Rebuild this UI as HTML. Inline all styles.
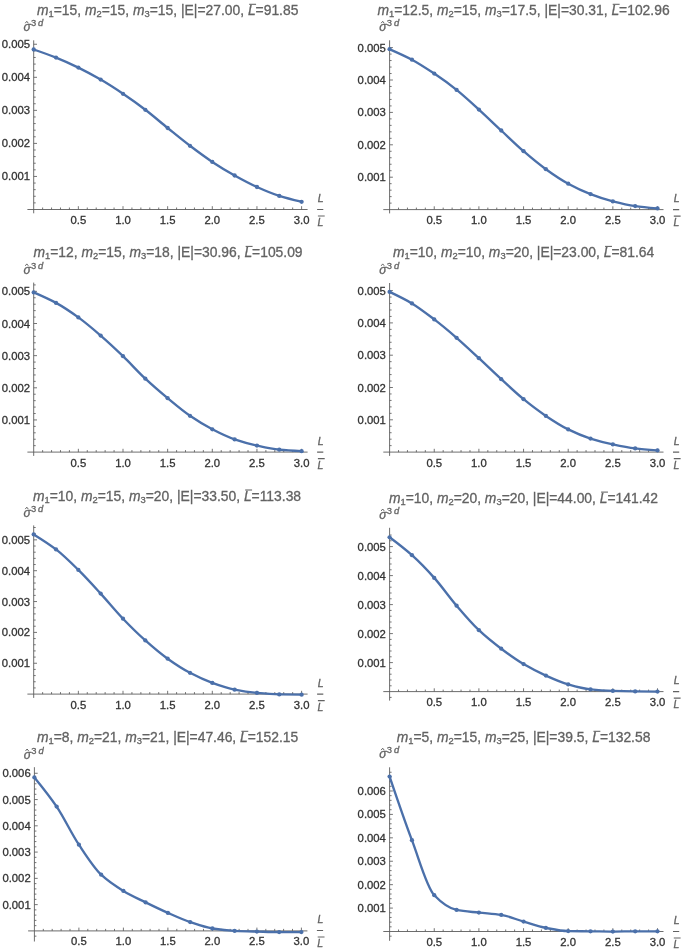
<!DOCTYPE html>
<html><head><meta charset="utf-8"><title>plots</title>
<style>
html,body{margin:0;padding:0;background:#fff;}
body{width:685px;height:951px;overflow:hidden;}
svg{display:block;font-family:"Liberation Sans",sans-serif;}
text{stroke-width:0.3px;paint-order:stroke;}
text[fill="#626262"]{stroke:#626262;}text[fill="#333333"]{stroke:#333333;}
</style></head><body>
<svg width="685" height="951" viewBox="0 0 685 951">
<defs><filter id="soft" x="0" y="0" width="685" height="951" filterUnits="userSpaceOnUse"><feGaussianBlur stdDeviation="0.35"/></filter><filter id="soft2" x="0" y="0" width="685" height="951" filterUnits="userSpaceOnUse"><feGaussianBlur stdDeviation="0.2"/></filter></defs>
<rect width="685" height="951" fill="#ffffff"/>
<g filter="url(#soft2)">
<path d="M27.40 209.50H307.60 M33.70 40.30V213.30" stroke="#5c5c5c" stroke-width="0.9" fill="none"/>
<path d="M42.63 209.50v-2.00M51.56 209.50v-2.00M60.49 209.50v-2.00M69.42 209.50v-2.00M78.35 209.50v-3.30M87.28 209.50v-2.00M96.21 209.50v-2.00M105.14 209.50v-2.00M114.07 209.50v-2.00M123.00 209.50v-3.30M131.93 209.50v-2.00M140.86 209.50v-2.00M149.79 209.50v-2.00M158.72 209.50v-2.00M167.65 209.50v-3.30M176.58 209.50v-2.00M185.51 209.50v-2.00M194.44 209.50v-2.00M203.37 209.50v-2.00M212.30 209.50v-3.30M221.23 209.50v-2.00M230.16 209.50v-2.00M239.09 209.50v-2.00M248.02 209.50v-2.00M256.95 209.50v-3.30M265.88 209.50v-2.00M274.81 209.50v-2.00M283.74 209.50v-2.00M292.67 209.50v-2.00M301.60 209.50v-3.30M33.70 202.89h2.00M33.70 196.28h2.00M33.70 189.67h2.00M33.70 183.06h2.00M33.70 176.45h3.30M33.70 169.84h2.00M33.70 163.23h2.00M33.70 156.62h2.00M33.70 150.01h2.00M33.70 143.40h3.30M33.70 136.79h2.00M33.70 130.18h2.00M33.70 123.57h2.00M33.70 116.96h2.00M33.70 110.35h3.30M33.70 103.74h2.00M33.70 97.13h2.00M33.70 90.52h2.00M33.70 83.91h2.00M33.70 77.30h3.30M33.70 70.69h2.00M33.70 64.08h2.00M33.70 57.47h2.00M33.70 50.86h2.00M33.70 44.25h3.30" stroke="#5c5c5c" stroke-width="0.85" fill="none"/>
<path d="M383.30 209.60H663.50 M389.60 40.30V213.40" stroke="#5c5c5c" stroke-width="0.9" fill="none"/>
<path d="M398.53 209.60v-2.00M407.46 209.60v-2.00M416.39 209.60v-2.00M425.32 209.60v-2.00M434.25 209.60v-3.30M443.18 209.60v-2.00M452.11 209.60v-2.00M461.04 209.60v-2.00M469.97 209.60v-2.00M478.90 209.60v-3.30M487.83 209.60v-2.00M496.76 209.60v-2.00M505.69 209.60v-2.00M514.62 209.60v-2.00M523.55 209.60v-3.30M532.48 209.60v-2.00M541.41 209.60v-2.00M550.34 209.60v-2.00M559.27 209.60v-2.00M568.20 209.60v-3.30M577.13 209.60v-2.00M586.06 209.60v-2.00M594.99 209.60v-2.00M603.92 209.60v-2.00M612.85 209.60v-3.30M621.78 209.60v-2.00M630.71 209.60v-2.00M639.64 209.60v-2.00M648.57 209.60v-2.00M657.50 209.60v-3.30M389.60 203.12h2.00M389.60 196.64h2.00M389.60 190.16h2.00M389.60 183.68h2.00M389.60 177.20h3.30M389.60 170.72h2.00M389.60 164.24h2.00M389.60 157.76h2.00M389.60 151.28h2.00M389.60 144.80h3.30M389.60 138.32h2.00M389.60 131.84h2.00M389.60 125.36h2.00M389.60 118.88h2.00M389.60 112.40h3.30M389.60 105.92h2.00M389.60 99.44h2.00M389.60 92.96h2.00M389.60 86.48h2.00M389.60 80.00h3.30M389.60 73.52h2.00M389.60 67.04h2.00M389.60 60.56h2.00M389.60 54.08h2.00M389.60 47.60h3.30" stroke="#5c5c5c" stroke-width="0.85" fill="none"/>
<path d="M27.40 452.10H307.60 M33.70 282.60V455.90" stroke="#5c5c5c" stroke-width="0.9" fill="none"/>
<path d="M42.63 452.10v-2.00M51.56 452.10v-2.00M60.49 452.10v-2.00M69.42 452.10v-2.00M78.35 452.10v-3.30M87.28 452.10v-2.00M96.21 452.10v-2.00M105.14 452.10v-2.00M114.07 452.10v-2.00M123.00 452.10v-3.30M131.93 452.10v-2.00M140.86 452.10v-2.00M149.79 452.10v-2.00M158.72 452.10v-2.00M167.65 452.10v-3.30M176.58 452.10v-2.00M185.51 452.10v-2.00M194.44 452.10v-2.00M203.37 452.10v-2.00M212.30 452.10v-3.30M221.23 452.10v-2.00M230.16 452.10v-2.00M239.09 452.10v-2.00M248.02 452.10v-2.00M256.95 452.10v-3.30M265.88 452.10v-2.00M274.81 452.10v-2.00M283.74 452.10v-2.00M292.67 452.10v-2.00M301.60 452.10v-3.30M33.70 445.67h2.00M33.70 439.24h2.00M33.70 432.81h2.00M33.70 426.38h2.00M33.70 419.95h3.30M33.70 413.52h2.00M33.70 407.09h2.00M33.70 400.66h2.00M33.70 394.23h2.00M33.70 387.80h3.30M33.70 381.37h2.00M33.70 374.94h2.00M33.70 368.51h2.00M33.70 362.08h2.00M33.70 355.65h3.30M33.70 349.22h2.00M33.70 342.79h2.00M33.70 336.36h2.00M33.70 329.93h2.00M33.70 323.50h3.30M33.70 317.07h2.00M33.70 310.64h2.00M33.70 304.21h2.00M33.70 297.78h2.00M33.70 291.35h3.30M33.70 284.92h2.00" stroke="#5c5c5c" stroke-width="0.85" fill="none"/>
<path d="M383.30 452.10H663.50 M389.60 283.00V455.90" stroke="#5c5c5c" stroke-width="0.9" fill="none"/>
<path d="M398.53 452.10v-2.00M407.46 452.10v-2.00M416.39 452.10v-2.00M425.32 452.10v-2.00M434.25 452.10v-3.30M443.18 452.10v-2.00M452.11 452.10v-2.00M461.04 452.10v-2.00M469.97 452.10v-2.00M478.90 452.10v-3.30M487.83 452.10v-2.00M496.76 452.10v-2.00M505.69 452.10v-2.00M514.62 452.10v-2.00M523.55 452.10v-3.30M532.48 452.10v-2.00M541.41 452.10v-2.00M550.34 452.10v-2.00M559.27 452.10v-2.00M568.20 452.10v-3.30M577.13 452.10v-2.00M586.06 452.10v-2.00M594.99 452.10v-2.00M603.92 452.10v-2.00M612.85 452.10v-3.30M621.78 452.10v-2.00M630.71 452.10v-2.00M639.64 452.10v-2.00M648.57 452.10v-2.00M657.50 452.10v-3.30M389.60 445.64h2.00M389.60 439.18h2.00M389.60 432.72h2.00M389.60 426.26h2.00M389.60 419.80h3.30M389.60 413.34h2.00M389.60 406.88h2.00M389.60 400.42h2.00M389.60 393.96h2.00M389.60 387.50h3.30M389.60 381.04h2.00M389.60 374.58h2.00M389.60 368.12h2.00M389.60 361.66h2.00M389.60 355.20h3.30M389.60 348.74h2.00M389.60 342.28h2.00M389.60 335.82h2.00M389.60 329.36h2.00M389.60 322.90h3.30M389.60 316.44h2.00M389.60 309.98h2.00M389.60 303.52h2.00M389.60 297.06h2.00M389.60 290.60h3.30" stroke="#5c5c5c" stroke-width="0.85" fill="none"/>
<path d="M27.40 694.10H307.60 M33.70 525.40V697.90" stroke="#5c5c5c" stroke-width="0.9" fill="none"/>
<path d="M42.63 694.10v-2.00M51.56 694.10v-2.00M60.49 694.10v-2.00M69.42 694.10v-2.00M78.35 694.10v-3.30M87.28 694.10v-2.00M96.21 694.10v-2.00M105.14 694.10v-2.00M114.07 694.10v-2.00M123.00 694.10v-3.30M131.93 694.10v-2.00M140.86 694.10v-2.00M149.79 694.10v-2.00M158.72 694.10v-2.00M167.65 694.10v-3.30M176.58 694.10v-2.00M185.51 694.10v-2.00M194.44 694.10v-2.00M203.37 694.10v-2.00M212.30 694.10v-3.30M221.23 694.10v-2.00M230.16 694.10v-2.00M239.09 694.10v-2.00M248.02 694.10v-2.00M256.95 694.10v-3.30M265.88 694.10v-2.00M274.81 694.10v-2.00M283.74 694.10v-2.00M292.67 694.10v-2.00M301.60 694.10v-3.30M33.70 687.93h2.00M33.70 681.76h2.00M33.70 675.59h2.00M33.70 669.42h2.00M33.70 663.25h3.30M33.70 657.08h2.00M33.70 650.91h2.00M33.70 644.74h2.00M33.70 638.57h2.00M33.70 632.40h3.30M33.70 626.23h2.00M33.70 620.06h2.00M33.70 613.89h2.00M33.70 607.72h2.00M33.70 601.55h3.30M33.70 595.38h2.00M33.70 589.21h2.00M33.70 583.04h2.00M33.70 576.87h2.00M33.70 570.70h3.30M33.70 564.53h2.00M33.70 558.36h2.00M33.70 552.19h2.00M33.70 546.02h2.00M33.70 539.85h3.30M33.70 533.68h2.00M33.70 527.51h2.00" stroke="#5c5c5c" stroke-width="0.85" fill="none"/>
<path d="M383.30 691.60H663.50 M389.60 527.80V700.60" stroke="#5c5c5c" stroke-width="0.9" fill="none"/>
<path d="M398.53 691.60v-2.00M407.46 691.60v-2.00M416.39 691.60v-2.00M425.32 691.60v-2.00M434.25 691.60v-3.30M443.18 691.60v-2.00M452.11 691.60v-2.00M461.04 691.60v-2.00M469.97 691.60v-2.00M478.90 691.60v-3.30M487.83 691.60v-2.00M496.76 691.60v-2.00M505.69 691.60v-2.00M514.62 691.60v-2.00M523.55 691.60v-3.30M532.48 691.60v-2.00M541.41 691.60v-2.00M550.34 691.60v-2.00M559.27 691.60v-2.00M568.20 691.60v-3.30M577.13 691.60v-2.00M586.06 691.60v-2.00M594.99 691.60v-2.00M603.92 691.60v-2.00M612.85 691.60v-3.30M621.78 691.60v-2.00M630.71 691.60v-2.00M639.64 691.60v-2.00M648.57 691.60v-2.00M657.50 691.60v-3.30M389.60 685.80h2.00M389.60 680.00h2.00M389.60 674.20h2.00M389.60 668.40h2.00M389.60 662.60h3.30M389.60 656.80h2.00M389.60 651.00h2.00M389.60 645.20h2.00M389.60 639.40h2.00M389.60 633.60h3.30M389.60 627.80h2.00M389.60 622.00h2.00M389.60 616.20h2.00M389.60 610.40h2.00M389.60 604.60h3.30M389.60 598.80h2.00M389.60 593.00h2.00M389.60 587.20h2.00M389.60 581.40h2.00M389.60 575.60h3.30M389.60 569.80h2.00M389.60 564.00h2.00M389.60 558.20h2.00M389.60 552.40h2.00M389.60 546.60h3.30M389.60 540.80h2.00M389.60 535.00h2.00M389.60 697.40h2.0" stroke="#5c5c5c" stroke-width="0.85" fill="none"/>
<path d="M28.10 930.90H307.40 M34.40 767.20V941.50" stroke="#5c5c5c" stroke-width="0.9" fill="none"/>
<path d="M43.30 930.90v-2.00M52.20 930.90v-2.00M61.10 930.90v-2.00M70.00 930.90v-2.00M78.90 930.90v-3.30M87.80 930.90v-2.00M96.70 930.90v-2.00M105.60 930.90v-2.00M114.50 930.90v-2.00M123.40 930.90v-3.30M132.30 930.90v-2.00M141.20 930.90v-2.00M150.10 930.90v-2.00M159.00 930.90v-2.00M167.90 930.90v-3.30M176.80 930.90v-2.00M185.70 930.90v-2.00M194.60 930.90v-2.00M203.50 930.90v-2.00M212.40 930.90v-3.30M221.30 930.90v-2.00M230.20 930.90v-2.00M239.10 930.90v-2.00M248.00 930.90v-2.00M256.90 930.90v-3.30M265.80 930.90v-2.00M274.70 930.90v-2.00M283.60 930.90v-2.00M292.50 930.90v-2.00M301.40 930.90v-3.30M34.40 925.65h2.00M34.40 920.39h2.00M34.40 915.14h2.00M34.40 909.88h2.00M34.40 904.63h3.30M34.40 899.38h2.00M34.40 894.12h2.00M34.40 888.87h2.00M34.40 883.61h2.00M34.40 878.36h3.30M34.40 873.11h2.00M34.40 867.85h2.00M34.40 862.60h2.00M34.40 857.34h2.00M34.40 852.09h3.30M34.40 846.84h2.00M34.40 841.58h2.00M34.40 836.33h2.00M34.40 831.07h2.00M34.40 825.82h3.30M34.40 820.57h2.00M34.40 815.31h2.00M34.40 810.06h2.00M34.40 804.80h2.00M34.40 799.55h3.30M34.40 794.30h2.00M34.40 789.04h2.00M34.40 783.79h2.00M34.40 778.53h2.00M34.40 773.28h3.30M34.40 936.15h2.0" stroke="#5c5c5c" stroke-width="0.85" fill="none"/>
<path d="M383.30 931.50H663.50 M389.60 767.30V940.80" stroke="#5c5c5c" stroke-width="0.9" fill="none"/>
<path d="M398.53 931.50v-2.00M407.46 931.50v-2.00M416.39 931.50v-2.00M425.32 931.50v-2.00M434.25 931.50v-3.30M443.18 931.50v-2.00M452.11 931.50v-2.00M461.04 931.50v-2.00M469.97 931.50v-2.00M478.90 931.50v-3.30M487.83 931.50v-2.00M496.76 931.50v-2.00M505.69 931.50v-2.00M514.62 931.50v-2.00M523.55 931.50v-3.30M532.48 931.50v-2.00M541.41 931.50v-2.00M550.34 931.50v-2.00M559.27 931.50v-2.00M568.20 931.50v-3.30M577.13 931.50v-2.00M586.06 931.50v-2.00M594.99 931.50v-2.00M603.92 931.50v-2.00M612.85 931.50v-3.30M621.78 931.50v-2.00M630.71 931.50v-2.00M639.64 931.50v-2.00M648.57 931.50v-2.00M657.50 931.50v-3.30M389.60 926.82h2.00M389.60 922.13h2.00M389.60 917.45h2.00M389.60 912.76h2.00M389.60 908.08h3.30M389.60 903.40h2.00M389.60 898.71h2.00M389.60 894.03h2.00M389.60 889.34h2.00M389.60 884.66h3.30M389.60 879.98h2.00M389.60 875.29h2.00M389.60 870.61h2.00M389.60 865.92h2.00M389.60 861.24h3.30M389.60 856.56h2.00M389.60 851.87h2.00M389.60 847.19h2.00M389.60 842.50h2.00M389.60 837.82h3.30M389.60 833.14h2.00M389.60 828.45h2.00M389.60 823.77h2.00M389.60 819.08h2.00M389.60 814.40h3.30M389.60 809.72h2.00M389.60 805.03h2.00M389.60 800.35h2.00M389.60 795.66h2.00M389.60 790.98h3.30M389.60 786.30h2.00M389.60 781.61h2.00M389.60 776.93h2.00M389.60 772.24h2.00M389.60 936.18h2.0" stroke="#5c5c5c" stroke-width="0.85" fill="none"/>
</g>
<g filter="url(#soft)">
<g>
<text x="78.35" y="224.00" text-anchor="middle" font-size="11.30" fill="#333333">0.5</text>
<text x="123.00" y="224.00" text-anchor="middle" font-size="11.30" fill="#333333">1.0</text>
<text x="167.65" y="224.00" text-anchor="middle" font-size="11.30" fill="#333333">1.5</text>
<text x="212.30" y="224.00" text-anchor="middle" font-size="11.30" fill="#333333">2.0</text>
<text x="256.95" y="224.00" text-anchor="middle" font-size="11.30" fill="#333333">2.5</text>
<text x="301.60" y="224.00" text-anchor="middle" font-size="11.30" fill="#333333">3.0</text>
<text x="30.00" y="180.45" text-anchor="end" font-size="11.30" fill="#333333">0.001</text>
<text x="30.00" y="147.40" text-anchor="end" font-size="11.30" fill="#333333">0.002</text>
<text x="30.00" y="114.35" text-anchor="end" font-size="11.30" fill="#333333">0.003</text>
<text x="30.00" y="81.30" text-anchor="end" font-size="11.30" fill="#333333">0.004</text>
<text x="30.00" y="48.25" text-anchor="end" font-size="11.30" fill="#333333">0.005</text>
<text x="317.80" y="202.20" font-size="10.5" font-style="italic" fill="#626262">L</text>
<text x="317.50" y="226.00" font-size="10.5" font-style="italic" fill="#626262">L</text>
<path d="M317.10 209.50h6.2 M317.90 216.00h6.8" stroke="#626262" stroke-width="1.05"/>
<text x="23.40" y="31.20" font-size="12.0" font-style="italic" fill="#626262">σ</text>
<path d="M25.30 23.20l1.5 -1.9l1.5 1.9" stroke="#626262" stroke-width="1.0" fill="none"/>
<text x="30.90" y="26.00" font-size="9.4" fill="#626262">3</text>
<text x="38.10" y="26.00" font-size="9.4" font-style="italic" fill="#626262">d</text>
<path d="M249.17 4.30h6.9" stroke="#626262" stroke-width="1.05"/>
<text class="ttl" x="37.00" y="15.10" font-size="13.87" fill="#626262"><tspan font-style="italic">m</tspan><tspan dy="2.1" font-size="9.4">1</tspan><tspan dy="-2.1">=15, </tspan><tspan font-style="italic">m</tspan><tspan dy="2.1" font-size="9.4">2</tspan><tspan dy="-2.1">=15, </tspan><tspan font-style="italic">m</tspan><tspan dy="2.1" font-size="9.4">3</tspan><tspan dy="-2.1">=15, |E|=27.00, </tspan><tspan class="lb" font-style="italic">L</tspan>=91.85</text>
<path d="M33.70 49.50 C41.14 52.06 48.58 54.62 56.03 57.60 C63.47 60.58 70.91 63.96 78.35 67.60 C85.79 71.24 93.23 75.26 100.67 79.60 C108.12 83.94 115.56 88.78 123.00 93.80 C130.44 98.82 137.88 104.12 145.32 109.80 C152.77 115.48 160.21 122.00 167.65 128.00 C175.09 134.00 182.53 140.16 189.98 145.80 C197.42 151.44 204.86 156.99 212.30 161.90 C219.74 166.81 227.18 171.35 234.62 175.50 C242.07 179.65 249.51 183.66 256.95 187.00 C264.39 190.34 271.83 193.53 279.27 195.90 C286.72 198.27 294.16 200.03 301.60 201.80" stroke="#4b70aa" stroke-width="2.35" fill="none" stroke-linecap="round" stroke-linejoin="round"/>
<circle cx="33.70" cy="49.50" r="2.15" fill="#4b70aa"/>
<circle cx="56.03" cy="57.60" r="2.15" fill="#4b70aa"/>
<circle cx="78.35" cy="67.60" r="2.15" fill="#4b70aa"/>
<circle cx="100.67" cy="79.60" r="2.15" fill="#4b70aa"/>
<circle cx="123.00" cy="93.80" r="2.15" fill="#4b70aa"/>
<circle cx="145.32" cy="109.80" r="2.15" fill="#4b70aa"/>
<circle cx="167.65" cy="128.00" r="2.15" fill="#4b70aa"/>
<circle cx="189.98" cy="145.80" r="2.15" fill="#4b70aa"/>
<circle cx="212.30" cy="161.90" r="2.15" fill="#4b70aa"/>
<circle cx="234.62" cy="175.50" r="2.15" fill="#4b70aa"/>
<circle cx="256.95" cy="187.00" r="2.15" fill="#4b70aa"/>
<circle cx="279.27" cy="195.90" r="2.15" fill="#4b70aa"/>
<circle cx="301.60" cy="201.80" r="2.15" fill="#4b70aa"/>
</g>
<g>
<text x="434.25" y="224.10" text-anchor="middle" font-size="11.30" fill="#333333">0.5</text>
<text x="478.90" y="224.10" text-anchor="middle" font-size="11.30" fill="#333333">1.0</text>
<text x="523.55" y="224.10" text-anchor="middle" font-size="11.30" fill="#333333">1.5</text>
<text x="568.20" y="224.10" text-anchor="middle" font-size="11.30" fill="#333333">2.0</text>
<text x="612.85" y="224.10" text-anchor="middle" font-size="11.30" fill="#333333">2.5</text>
<text x="657.50" y="224.10" text-anchor="middle" font-size="11.30" fill="#333333">3.0</text>
<text x="385.90" y="181.20" text-anchor="end" font-size="11.30" fill="#333333">0.001</text>
<text x="385.90" y="148.80" text-anchor="end" font-size="11.30" fill="#333333">0.002</text>
<text x="385.90" y="116.40" text-anchor="end" font-size="11.30" fill="#333333">0.003</text>
<text x="385.90" y="84.00" text-anchor="end" font-size="11.30" fill="#333333">0.004</text>
<text x="385.90" y="51.60" text-anchor="end" font-size="11.30" fill="#333333">0.005</text>
<text x="673.70" y="202.30" font-size="10.5" font-style="italic" fill="#626262">L</text>
<text x="673.40" y="226.10" font-size="10.5" font-style="italic" fill="#626262">L</text>
<path d="M673.00 209.60h6.2 M673.80 216.10h6.8" stroke="#626262" stroke-width="1.05"/>
<text x="379.30" y="31.20" font-size="12.0" font-style="italic" fill="#626262">σ</text>
<path d="M381.20 23.20l1.5 -1.9l1.5 1.9" stroke="#626262" stroke-width="1.0" fill="none"/>
<text x="386.80" y="26.00" font-size="9.4" fill="#626262">3</text>
<text x="394.00" y="26.00" font-size="9.4" font-style="italic" fill="#626262">d</text>
<path d="M612.71 4.30h6.9" stroke="#626262" stroke-width="1.05"/>
<text class="ttl" x="377.40" y="15.10" font-size="13.87" fill="#626262"><tspan font-style="italic">m</tspan><tspan dy="2.1" font-size="9.4">1</tspan><tspan dy="-2.1">=12.5, </tspan><tspan font-style="italic">m</tspan><tspan dy="2.1" font-size="9.4">2</tspan><tspan dy="-2.1">=15, </tspan><tspan font-style="italic">m</tspan><tspan dy="2.1" font-size="9.4">3</tspan><tspan dy="-2.1">=17.5, |E|=30.31, </tspan><tspan class="lb" font-style="italic">L</tspan>=102.96</text>
<path d="M389.60 49.20 C397.04 52.46 404.48 55.71 411.93 59.70 C419.37 63.69 426.81 68.60 434.25 73.60 C441.69 78.60 449.13 83.95 456.58 89.90 C464.02 95.85 471.46 102.84 478.90 109.60 C486.34 116.36 493.78 123.57 501.23 130.50 C508.67 137.43 516.11 144.78 523.55 151.20 C530.99 157.62 538.43 163.85 545.88 169.20 C553.32 174.55 560.76 179.66 568.20 183.70 C575.64 187.74 583.08 191.24 590.52 194.10 C597.97 196.96 605.41 199.49 612.85 201.40 C620.29 203.31 627.73 205.07 635.17 206.10 C642.62 207.13 650.06 207.76 657.50 208.40" stroke="#4b70aa" stroke-width="2.35" fill="none" stroke-linecap="round" stroke-linejoin="round"/>
<circle cx="389.60" cy="49.20" r="2.15" fill="#4b70aa"/>
<circle cx="411.93" cy="59.70" r="2.15" fill="#4b70aa"/>
<circle cx="434.25" cy="73.60" r="2.15" fill="#4b70aa"/>
<circle cx="456.58" cy="89.90" r="2.15" fill="#4b70aa"/>
<circle cx="478.90" cy="109.60" r="2.15" fill="#4b70aa"/>
<circle cx="501.23" cy="130.50" r="2.15" fill="#4b70aa"/>
<circle cx="523.55" cy="151.20" r="2.15" fill="#4b70aa"/>
<circle cx="545.88" cy="169.20" r="2.15" fill="#4b70aa"/>
<circle cx="568.20" cy="183.70" r="2.15" fill="#4b70aa"/>
<circle cx="590.52" cy="194.10" r="2.15" fill="#4b70aa"/>
<circle cx="612.85" cy="201.40" r="2.15" fill="#4b70aa"/>
<circle cx="635.17" cy="206.10" r="2.15" fill="#4b70aa"/>
<circle cx="657.50" cy="208.40" r="2.15" fill="#4b70aa"/>
</g>
<g>
<text x="78.35" y="466.60" text-anchor="middle" font-size="11.30" fill="#333333">0.5</text>
<text x="123.00" y="466.60" text-anchor="middle" font-size="11.30" fill="#333333">1.0</text>
<text x="167.65" y="466.60" text-anchor="middle" font-size="11.30" fill="#333333">1.5</text>
<text x="212.30" y="466.60" text-anchor="middle" font-size="11.30" fill="#333333">2.0</text>
<text x="256.95" y="466.60" text-anchor="middle" font-size="11.30" fill="#333333">2.5</text>
<text x="301.60" y="466.60" text-anchor="middle" font-size="11.30" fill="#333333">3.0</text>
<text x="30.00" y="423.95" text-anchor="end" font-size="11.30" fill="#333333">0.001</text>
<text x="30.00" y="391.80" text-anchor="end" font-size="11.30" fill="#333333">0.002</text>
<text x="30.00" y="359.65" text-anchor="end" font-size="11.30" fill="#333333">0.003</text>
<text x="30.00" y="327.50" text-anchor="end" font-size="11.30" fill="#333333">0.004</text>
<text x="30.00" y="295.35" text-anchor="end" font-size="11.30" fill="#333333">0.005</text>
<text x="317.80" y="444.80" font-size="10.5" font-style="italic" fill="#626262">L</text>
<text x="317.50" y="468.60" font-size="10.5" font-style="italic" fill="#626262">L</text>
<path d="M317.10 452.10h6.2 M317.90 458.60h6.8" stroke="#626262" stroke-width="1.05"/>
<text x="23.40" y="273.80" font-size="12.0" font-style="italic" fill="#626262">σ</text>
<path d="M25.30 265.80l1.5 -1.9l1.5 1.9" stroke="#626262" stroke-width="1.0" fill="none"/>
<text x="30.90" y="268.60" font-size="9.4" fill="#626262">3</text>
<text x="38.10" y="268.60" font-size="9.4" font-style="italic" fill="#626262">d</text>
<path d="M245.67 246.40h6.9" stroke="#626262" stroke-width="1.05"/>
<text class="ttl" x="33.50" y="257.20" font-size="13.87" fill="#626262"><tspan font-style="italic">m</tspan><tspan dy="2.1" font-size="9.4">1</tspan><tspan dy="-2.1">=12, </tspan><tspan font-style="italic">m</tspan><tspan dy="2.1" font-size="9.4">2</tspan><tspan dy="-2.1">=15, </tspan><tspan font-style="italic">m</tspan><tspan dy="2.1" font-size="9.4">3</tspan><tspan dy="-2.1">=18, |E|=30.96, </tspan><tspan class="lb" font-style="italic">L</tspan>=105.09</text>
<path d="M33.70 292.40 C41.14 295.62 48.58 298.84 56.03 302.90 C63.47 306.96 70.91 312.02 78.35 317.40 C85.79 322.78 93.23 329.16 100.67 335.60 C108.12 342.04 115.56 349.03 123.00 356.20 C130.44 363.37 137.88 371.74 145.32 378.70 C152.77 385.66 160.21 392.03 167.65 398.20 C175.09 404.37 182.53 410.71 189.98 415.80 C197.42 420.89 204.86 425.45 212.30 429.30 C219.74 433.15 227.18 436.84 234.62 439.40 C242.07 441.96 249.51 443.95 256.95 445.60 C264.39 447.25 271.83 448.97 279.27 449.70 C286.72 450.43 294.16 450.82 301.60 451.20" stroke="#4b70aa" stroke-width="2.35" fill="none" stroke-linecap="round" stroke-linejoin="round"/>
<circle cx="33.70" cy="292.40" r="2.15" fill="#4b70aa"/>
<circle cx="56.03" cy="302.90" r="2.15" fill="#4b70aa"/>
<circle cx="78.35" cy="317.40" r="2.15" fill="#4b70aa"/>
<circle cx="100.67" cy="335.60" r="2.15" fill="#4b70aa"/>
<circle cx="123.00" cy="356.20" r="2.15" fill="#4b70aa"/>
<circle cx="145.32" cy="378.70" r="2.15" fill="#4b70aa"/>
<circle cx="167.65" cy="398.20" r="2.15" fill="#4b70aa"/>
<circle cx="189.98" cy="415.80" r="2.15" fill="#4b70aa"/>
<circle cx="212.30" cy="429.30" r="2.15" fill="#4b70aa"/>
<circle cx="234.62" cy="439.40" r="2.15" fill="#4b70aa"/>
<circle cx="256.95" cy="445.60" r="2.15" fill="#4b70aa"/>
<circle cx="279.27" cy="449.70" r="2.15" fill="#4b70aa"/>
<circle cx="301.60" cy="451.20" r="2.15" fill="#4b70aa"/>
</g>
<g>
<text x="434.25" y="466.60" text-anchor="middle" font-size="11.30" fill="#333333">0.5</text>
<text x="478.90" y="466.60" text-anchor="middle" font-size="11.30" fill="#333333">1.0</text>
<text x="523.55" y="466.60" text-anchor="middle" font-size="11.30" fill="#333333">1.5</text>
<text x="568.20" y="466.60" text-anchor="middle" font-size="11.30" fill="#333333">2.0</text>
<text x="612.85" y="466.60" text-anchor="middle" font-size="11.30" fill="#333333">2.5</text>
<text x="657.50" y="466.60" text-anchor="middle" font-size="11.30" fill="#333333">3.0</text>
<text x="385.90" y="423.80" text-anchor="end" font-size="11.30" fill="#333333">0.001</text>
<text x="385.90" y="391.50" text-anchor="end" font-size="11.30" fill="#333333">0.002</text>
<text x="385.90" y="359.20" text-anchor="end" font-size="11.30" fill="#333333">0.003</text>
<text x="385.90" y="326.90" text-anchor="end" font-size="11.30" fill="#333333">0.004</text>
<text x="385.90" y="294.60" text-anchor="end" font-size="11.30" fill="#333333">0.005</text>
<text x="673.70" y="444.80" font-size="10.5" font-style="italic" fill="#626262">L</text>
<text x="673.40" y="468.60" font-size="10.5" font-style="italic" fill="#626262">L</text>
<path d="M673.00 452.10h6.2 M673.80 458.60h6.8" stroke="#626262" stroke-width="1.05"/>
<text x="379.30" y="273.80" font-size="12.0" font-style="italic" fill="#626262">σ</text>
<path d="M381.20 265.80l1.5 -1.9l1.5 1.9" stroke="#626262" stroke-width="1.0" fill="none"/>
<text x="386.80" y="268.60" font-size="9.4" fill="#626262">3</text>
<text x="394.00" y="268.60" font-size="9.4" font-style="italic" fill="#626262">d</text>
<path d="M605.07 246.40h6.9" stroke="#626262" stroke-width="1.05"/>
<text class="ttl" x="392.90" y="257.20" font-size="13.87" fill="#626262"><tspan font-style="italic">m</tspan><tspan dy="2.1" font-size="9.4">1</tspan><tspan dy="-2.1">=10, </tspan><tspan font-style="italic">m</tspan><tspan dy="2.1" font-size="9.4">2</tspan><tspan dy="-2.1">=10, </tspan><tspan font-style="italic">m</tspan><tspan dy="2.1" font-size="9.4">3</tspan><tspan dy="-2.1">=20, |E|=23.00, </tspan><tspan class="lb" font-style="italic">L</tspan>=81.64</text>
<path d="M389.60 291.90 C397.04 295.42 404.48 298.94 411.93 303.40 C419.37 307.86 426.81 313.69 434.25 319.40 C441.69 325.11 449.13 331.35 456.58 337.80 C464.02 344.25 471.46 351.30 478.90 358.20 C486.34 365.10 493.78 372.37 501.23 379.20 C508.67 386.03 516.11 393.13 523.55 399.20 C530.99 405.27 538.43 410.92 545.88 415.90 C553.32 420.88 560.76 425.75 568.20 429.40 C575.64 433.05 583.08 436.23 590.52 438.60 C597.97 440.97 605.41 442.82 612.85 444.40 C620.29 445.98 627.73 447.51 635.17 448.40 C642.62 449.29 650.06 449.84 657.50 450.40" stroke="#4b70aa" stroke-width="2.35" fill="none" stroke-linecap="round" stroke-linejoin="round"/>
<circle cx="389.60" cy="291.90" r="2.15" fill="#4b70aa"/>
<circle cx="411.93" cy="303.40" r="2.15" fill="#4b70aa"/>
<circle cx="434.25" cy="319.40" r="2.15" fill="#4b70aa"/>
<circle cx="456.58" cy="337.80" r="2.15" fill="#4b70aa"/>
<circle cx="478.90" cy="358.20" r="2.15" fill="#4b70aa"/>
<circle cx="501.23" cy="379.20" r="2.15" fill="#4b70aa"/>
<circle cx="523.55" cy="399.20" r="2.15" fill="#4b70aa"/>
<circle cx="545.88" cy="415.90" r="2.15" fill="#4b70aa"/>
<circle cx="568.20" cy="429.40" r="2.15" fill="#4b70aa"/>
<circle cx="590.52" cy="438.60" r="2.15" fill="#4b70aa"/>
<circle cx="612.85" cy="444.40" r="2.15" fill="#4b70aa"/>
<circle cx="635.17" cy="448.40" r="2.15" fill="#4b70aa"/>
<circle cx="657.50" cy="450.40" r="2.15" fill="#4b70aa"/>
</g>
<g>
<text x="78.35" y="708.60" text-anchor="middle" font-size="11.30" fill="#333333">0.5</text>
<text x="123.00" y="708.60" text-anchor="middle" font-size="11.30" fill="#333333">1.0</text>
<text x="167.65" y="708.60" text-anchor="middle" font-size="11.30" fill="#333333">1.5</text>
<text x="212.30" y="708.60" text-anchor="middle" font-size="11.30" fill="#333333">2.0</text>
<text x="256.95" y="708.60" text-anchor="middle" font-size="11.30" fill="#333333">2.5</text>
<text x="301.60" y="708.60" text-anchor="middle" font-size="11.30" fill="#333333">3.0</text>
<text x="30.00" y="667.25" text-anchor="end" font-size="11.30" fill="#333333">0.001</text>
<text x="30.00" y="636.40" text-anchor="end" font-size="11.30" fill="#333333">0.002</text>
<text x="30.00" y="605.55" text-anchor="end" font-size="11.30" fill="#333333">0.003</text>
<text x="30.00" y="574.70" text-anchor="end" font-size="11.30" fill="#333333">0.004</text>
<text x="30.00" y="543.85" text-anchor="end" font-size="11.30" fill="#333333">0.005</text>
<text x="317.80" y="686.80" font-size="10.5" font-style="italic" fill="#626262">L</text>
<text x="317.50" y="710.60" font-size="10.5" font-style="italic" fill="#626262">L</text>
<path d="M317.10 694.10h6.2 M317.90 700.60h6.8" stroke="#626262" stroke-width="1.05"/>
<text x="23.40" y="517.10" font-size="12.0" font-style="italic" fill="#626262">σ</text>
<path d="M25.30 509.10l1.5 -1.9l1.5 1.9" stroke="#626262" stroke-width="1.0" fill="none"/>
<text x="30.90" y="511.90" font-size="9.4" fill="#626262">3</text>
<text x="38.10" y="511.90" font-size="9.4" font-style="italic" fill="#626262">d</text>
<path d="M245.17 490.00h6.9" stroke="#626262" stroke-width="1.05"/>
<text class="ttl" x="33.00" y="500.80" font-size="13.87" fill="#626262"><tspan font-style="italic">m</tspan><tspan dy="2.1" font-size="9.4">1</tspan><tspan dy="-2.1">=10, </tspan><tspan font-style="italic">m</tspan><tspan dy="2.1" font-size="9.4">2</tspan><tspan dy="-2.1">=15, </tspan><tspan font-style="italic">m</tspan><tspan dy="2.1" font-size="9.4">3</tspan><tspan dy="-2.1">=20, |E|=33.50, </tspan><tspan class="lb" font-style="italic">L</tspan>=113.38</text>
<path d="M33.70 534.40 C41.14 539.01 48.58 543.63 56.03 549.40 C63.47 555.17 70.91 562.57 78.35 569.90 C85.79 577.23 93.23 585.47 100.67 593.60 C108.12 601.73 115.56 610.94 123.00 618.70 C130.44 626.46 137.88 633.78 145.32 640.40 C152.77 647.02 160.21 653.39 167.65 658.70 C175.09 664.01 182.53 668.88 189.98 672.80 C197.42 676.72 204.86 680.19 212.30 682.90 C219.74 685.61 227.18 688.25 234.62 689.70 C242.07 691.15 249.51 692.22 256.95 692.90 C264.39 693.58 271.83 694.23 279.27 694.40 C286.72 694.57 294.16 694.63 301.60 694.70" stroke="#4b70aa" stroke-width="2.35" fill="none" stroke-linecap="round" stroke-linejoin="round"/>
<circle cx="33.70" cy="534.40" r="2.15" fill="#4b70aa"/>
<circle cx="56.03" cy="549.40" r="2.15" fill="#4b70aa"/>
<circle cx="78.35" cy="569.90" r="2.15" fill="#4b70aa"/>
<circle cx="100.67" cy="593.60" r="2.15" fill="#4b70aa"/>
<circle cx="123.00" cy="618.70" r="2.15" fill="#4b70aa"/>
<circle cx="145.32" cy="640.40" r="2.15" fill="#4b70aa"/>
<circle cx="167.65" cy="658.70" r="2.15" fill="#4b70aa"/>
<circle cx="189.98" cy="672.80" r="2.15" fill="#4b70aa"/>
<circle cx="212.30" cy="682.90" r="2.15" fill="#4b70aa"/>
<circle cx="234.62" cy="689.70" r="2.15" fill="#4b70aa"/>
<circle cx="256.95" cy="692.90" r="2.15" fill="#4b70aa"/>
<circle cx="279.27" cy="694.40" r="2.15" fill="#4b70aa"/>
<circle cx="301.60" cy="694.70" r="2.15" fill="#4b70aa"/>
</g>
<g>
<text x="434.25" y="706.10" text-anchor="middle" font-size="11.30" fill="#333333">0.5</text>
<text x="478.90" y="706.10" text-anchor="middle" font-size="11.30" fill="#333333">1.0</text>
<text x="523.55" y="706.10" text-anchor="middle" font-size="11.30" fill="#333333">1.5</text>
<text x="568.20" y="706.10" text-anchor="middle" font-size="11.30" fill="#333333">2.0</text>
<text x="612.85" y="706.10" text-anchor="middle" font-size="11.30" fill="#333333">2.5</text>
<text x="657.50" y="706.10" text-anchor="middle" font-size="11.30" fill="#333333">3.0</text>
<text x="385.90" y="666.60" text-anchor="end" font-size="11.30" fill="#333333">0.001</text>
<text x="385.90" y="637.60" text-anchor="end" font-size="11.30" fill="#333333">0.002</text>
<text x="385.90" y="608.60" text-anchor="end" font-size="11.30" fill="#333333">0.003</text>
<text x="385.90" y="579.60" text-anchor="end" font-size="11.30" fill="#333333">0.004</text>
<text x="385.90" y="550.60" text-anchor="end" font-size="11.30" fill="#333333">0.005</text>
<text x="673.70" y="684.30" font-size="10.5" font-style="italic" fill="#626262">L</text>
<text x="673.40" y="708.10" font-size="10.5" font-style="italic" fill="#626262">L</text>
<path d="M673.00 691.60h6.2 M673.80 698.10h6.8" stroke="#626262" stroke-width="1.05"/>
<text x="379.30" y="518.90" font-size="12.0" font-style="italic" fill="#626262">σ</text>
<path d="M381.20 510.90l1.5 -1.9l1.5 1.9" stroke="#626262" stroke-width="1.0" fill="none"/>
<text x="386.80" y="513.70" font-size="9.4" fill="#626262">3</text>
<text x="394.00" y="513.70" font-size="9.4" font-style="italic" fill="#626262">d</text>
<path d="M601.07 492.10h6.9" stroke="#626262" stroke-width="1.05"/>
<text class="ttl" x="388.90" y="502.90" font-size="13.87" fill="#626262"><tspan font-style="italic">m</tspan><tspan dy="2.1" font-size="9.4">1</tspan><tspan dy="-2.1">=10, </tspan><tspan font-style="italic">m</tspan><tspan dy="2.1" font-size="9.4">2</tspan><tspan dy="-2.1">=20, </tspan><tspan font-style="italic">m</tspan><tspan dy="2.1" font-size="9.4">3</tspan><tspan dy="-2.1">=20, |E|=44.00, </tspan><tspan class="lb" font-style="italic">L</tspan>=141.42</text>
<path d="M389.60 537.30 C397.04 542.91 404.48 548.53 411.93 555.20 C419.37 561.87 426.81 569.57 434.25 577.90 C441.69 586.23 449.13 597.02 456.58 605.70 C464.02 614.38 471.46 623.17 478.90 630.20 C486.34 637.23 493.78 643.10 501.23 648.70 C508.67 654.30 516.11 659.71 523.55 664.10 C530.99 668.49 538.43 672.28 545.88 675.60 C553.32 678.92 560.76 682.27 568.20 684.40 C575.64 686.53 583.08 688.63 590.52 689.40 C597.97 690.17 605.41 690.65 612.85 690.90 C620.29 691.15 627.73 691.30 635.17 691.40 C642.62 691.50 650.06 691.55 657.50 691.60" stroke="#4b70aa" stroke-width="2.35" fill="none" stroke-linecap="round" stroke-linejoin="round"/>
<circle cx="389.60" cy="537.30" r="2.15" fill="#4b70aa"/>
<circle cx="411.93" cy="555.20" r="2.15" fill="#4b70aa"/>
<circle cx="434.25" cy="577.90" r="2.15" fill="#4b70aa"/>
<circle cx="456.58" cy="605.70" r="2.15" fill="#4b70aa"/>
<circle cx="478.90" cy="630.20" r="2.15" fill="#4b70aa"/>
<circle cx="501.23" cy="648.70" r="2.15" fill="#4b70aa"/>
<circle cx="523.55" cy="664.10" r="2.15" fill="#4b70aa"/>
<circle cx="545.88" cy="675.60" r="2.15" fill="#4b70aa"/>
<circle cx="568.20" cy="684.40" r="2.15" fill="#4b70aa"/>
<circle cx="590.52" cy="689.40" r="2.15" fill="#4b70aa"/>
<circle cx="612.85" cy="690.90" r="2.15" fill="#4b70aa"/>
<circle cx="635.17" cy="691.40" r="2.15" fill="#4b70aa"/>
<circle cx="657.50" cy="691.60" r="2.15" fill="#4b70aa"/>
</g>
<g>
<text x="78.90" y="945.40" text-anchor="middle" font-size="11.30" fill="#333333">0.5</text>
<text x="123.40" y="945.40" text-anchor="middle" font-size="11.30" fill="#333333">1.0</text>
<text x="167.90" y="945.40" text-anchor="middle" font-size="11.30" fill="#333333">1.5</text>
<text x="212.40" y="945.40" text-anchor="middle" font-size="11.30" fill="#333333">2.0</text>
<text x="256.90" y="945.40" text-anchor="middle" font-size="11.30" fill="#333333">2.5</text>
<text x="301.40" y="945.40" text-anchor="middle" font-size="11.30" fill="#333333">3.0</text>
<text x="30.70" y="908.63" text-anchor="end" font-size="11.30" fill="#333333">0.001</text>
<text x="30.70" y="882.36" text-anchor="end" font-size="11.30" fill="#333333">0.002</text>
<text x="30.70" y="856.09" text-anchor="end" font-size="11.30" fill="#333333">0.003</text>
<text x="30.70" y="829.82" text-anchor="end" font-size="11.30" fill="#333333">0.004</text>
<text x="30.70" y="803.55" text-anchor="end" font-size="11.30" fill="#333333">0.005</text>
<text x="30.70" y="777.28" text-anchor="end" font-size="11.30" fill="#333333">0.006</text>
<text x="317.60" y="923.10" font-size="10.5" font-style="italic" fill="#626262">L</text>
<text x="317.30" y="946.90" font-size="10.5" font-style="italic" fill="#626262">L</text>
<path d="M316.90 930.40h6.2 M317.70 936.90h6.8" stroke="#626262" stroke-width="1.05"/>
<text x="23.70" y="758.90" font-size="12.0" font-style="italic" fill="#626262">σ</text>
<path d="M25.60 750.90l1.5 -1.9l1.5 1.9" stroke="#626262" stroke-width="1.0" fill="none"/>
<text x="31.20" y="753.70" font-size="9.4" fill="#626262">3</text>
<text x="38.40" y="753.70" font-size="9.4" font-style="italic" fill="#626262">d</text>
<path d="M241.36 731.30h6.9" stroke="#626262" stroke-width="1.05"/>
<text class="ttl" x="36.90" y="742.10" font-size="13.87" fill="#626262"><tspan font-style="italic">m</tspan><tspan dy="2.1" font-size="9.4">1</tspan><tspan dy="-2.1">=8, </tspan><tspan font-style="italic">m</tspan><tspan dy="2.1" font-size="9.4">2</tspan><tspan dy="-2.1">=21, </tspan><tspan font-style="italic">m</tspan><tspan dy="2.1" font-size="9.4">3</tspan><tspan dy="-2.1">=21, |E|=47.46, </tspan><tspan class="lb" font-style="italic">L</tspan>=152.15</text>
<path d="M34.40 777.40 C41.82 786.49 49.23 795.58 56.65 806.60 C64.07 817.62 71.48 833.51 78.90 844.70 C86.32 855.89 93.73 867.69 101.15 874.70 C108.57 881.71 115.98 886.42 123.40 890.90 C130.82 895.38 138.23 898.74 145.65 902.40 C153.07 906.06 160.48 909.63 167.90 912.90 C175.32 916.17 182.73 919.58 190.15 922.10 C197.57 924.62 204.98 927.34 212.40 928.50 C219.82 929.66 227.23 930.54 234.65 930.90 C242.07 931.26 249.48 931.41 256.90 931.60 C264.32 931.79 271.73 932.10 279.15 932.10 C286.57 932.10 293.98 932.10 301.40 932.10" stroke="#4b70aa" stroke-width="2.35" fill="none" stroke-linecap="round" stroke-linejoin="round"/>
<circle cx="34.40" cy="777.40" r="2.15" fill="#4b70aa"/>
<circle cx="56.65" cy="806.60" r="2.15" fill="#4b70aa"/>
<circle cx="78.90" cy="844.70" r="2.15" fill="#4b70aa"/>
<circle cx="101.15" cy="874.70" r="2.15" fill="#4b70aa"/>
<circle cx="123.40" cy="890.90" r="2.15" fill="#4b70aa"/>
<circle cx="145.65" cy="902.40" r="2.15" fill="#4b70aa"/>
<circle cx="167.90" cy="912.90" r="2.15" fill="#4b70aa"/>
<circle cx="190.15" cy="922.10" r="2.15" fill="#4b70aa"/>
<circle cx="212.40" cy="928.50" r="2.15" fill="#4b70aa"/>
<circle cx="234.65" cy="930.90" r="2.15" fill="#4b70aa"/>
<circle cx="256.90" cy="931.60" r="2.15" fill="#4b70aa"/>
<circle cx="279.15" cy="932.10" r="2.15" fill="#4b70aa"/>
<circle cx="301.40" cy="932.10" r="2.15" fill="#4b70aa"/>
</g>
<g>
<text x="434.25" y="946.00" text-anchor="middle" font-size="11.30" fill="#333333">0.5</text>
<text x="478.90" y="946.00" text-anchor="middle" font-size="11.30" fill="#333333">1.0</text>
<text x="523.55" y="946.00" text-anchor="middle" font-size="11.30" fill="#333333">1.5</text>
<text x="568.20" y="946.00" text-anchor="middle" font-size="11.30" fill="#333333">2.0</text>
<text x="612.85" y="946.00" text-anchor="middle" font-size="11.30" fill="#333333">2.5</text>
<text x="657.50" y="946.00" text-anchor="middle" font-size="11.30" fill="#333333">3.0</text>
<text x="385.90" y="912.08" text-anchor="end" font-size="11.30" fill="#333333">0.001</text>
<text x="385.90" y="888.66" text-anchor="end" font-size="11.30" fill="#333333">0.002</text>
<text x="385.90" y="865.24" text-anchor="end" font-size="11.30" fill="#333333">0.003</text>
<text x="385.90" y="841.82" text-anchor="end" font-size="11.30" fill="#333333">0.004</text>
<text x="385.90" y="818.40" text-anchor="end" font-size="11.30" fill="#333333">0.005</text>
<text x="385.90" y="794.98" text-anchor="end" font-size="11.30" fill="#333333">0.006</text>
<text x="673.70" y="924.20" font-size="10.5" font-style="italic" fill="#626262">L</text>
<text x="673.40" y="948.00" font-size="10.5" font-style="italic" fill="#626262">L</text>
<path d="M673.00 931.50h6.2 M673.80 938.00h6.8" stroke="#626262" stroke-width="1.05"/>
<text x="379.30" y="758.10" font-size="12.0" font-style="italic" fill="#626262">σ</text>
<path d="M381.20 750.10l1.5 -1.9l1.5 1.9" stroke="#626262" stroke-width="1.0" fill="none"/>
<text x="386.80" y="752.90" font-size="9.4" fill="#626262">3</text>
<text x="394.00" y="752.90" font-size="9.4" font-style="italic" fill="#626262">d</text>
<path d="M593.45 731.30h6.9" stroke="#626262" stroke-width="1.05"/>
<text class="ttl" x="396.70" y="742.10" font-size="13.87" fill="#626262"><tspan font-style="italic">m</tspan><tspan dy="2.1" font-size="9.4">1</tspan><tspan dy="-2.1">=5, </tspan><tspan font-style="italic">m</tspan><tspan dy="2.1" font-size="9.4">2</tspan><tspan dy="-2.1">=15, </tspan><tspan font-style="italic">m</tspan><tspan dy="2.1" font-size="9.4">3</tspan><tspan dy="-2.1">=25, |E|=39.5, </tspan><tspan class="lb" font-style="italic">L</tspan>=132.58</text>
<path d="M389.60 776.60 C397.04 798.57 404.48 820.54 411.93 840.20 C419.37 859.86 426.81 887.47 434.25 895.20 C441.69 902.93 449.13 908.38 456.58 909.90 C464.02 911.42 471.46 911.77 478.90 912.60 C486.34 913.43 493.78 913.76 501.23 914.90 C508.67 916.04 516.11 919.44 523.55 921.60 C530.99 923.76 538.43 926.49 545.88 927.90 C553.32 929.31 560.76 930.97 568.20 931.10 C575.64 931.23 583.08 931.22 590.52 931.30 C597.97 931.38 605.41 931.60 612.85 931.60 C620.29 931.60 627.73 931.30 635.17 931.30 C642.62 931.30 650.06 931.30 657.50 931.30" stroke="#4b70aa" stroke-width="2.35" fill="none" stroke-linecap="round" stroke-linejoin="round"/>
<circle cx="389.60" cy="776.60" r="2.15" fill="#4b70aa"/>
<circle cx="411.93" cy="840.20" r="2.15" fill="#4b70aa"/>
<circle cx="434.25" cy="895.20" r="2.15" fill="#4b70aa"/>
<circle cx="456.58" cy="909.90" r="2.15" fill="#4b70aa"/>
<circle cx="478.90" cy="912.60" r="2.15" fill="#4b70aa"/>
<circle cx="501.23" cy="914.90" r="2.15" fill="#4b70aa"/>
<circle cx="523.55" cy="921.60" r="2.15" fill="#4b70aa"/>
<circle cx="545.88" cy="927.90" r="2.15" fill="#4b70aa"/>
<circle cx="568.20" cy="931.10" r="2.15" fill="#4b70aa"/>
<circle cx="590.52" cy="931.30" r="2.15" fill="#4b70aa"/>
<circle cx="612.85" cy="931.60" r="2.15" fill="#4b70aa"/>
<circle cx="635.17" cy="931.30" r="2.15" fill="#4b70aa"/>
<circle cx="657.50" cy="931.30" r="2.15" fill="#4b70aa"/>
</g>
</g>
</svg>
</body></html>
